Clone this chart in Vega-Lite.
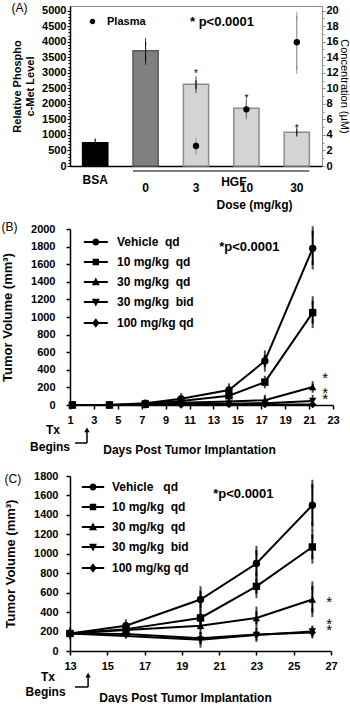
{
  "$schema": "https://vega.github.io/schema/vega-lite/v6.json",
  "background": "white",
  "padding": {"left": 1, "top": 1, "right": 0, "bottom": 0},
  "datasets": {
    "phospho": [
      {"group": "BSA", "level": 750, "lo": 735, "hi": 765},
      {"group": "0", "level": 3711, "lo": 3390, "hi": 4001},
      {"group": "3", "level": 2630, "lo": 2479, "hi": 2759},
      {"group": "10", "level": 1857, "lo": 1700, "hi": 2020},
      {"group": "30", "level": 1085, "lo": 1070, "hi": 1100}
    ],
    "plasma": [
      {"group": "3", "conc": 2.58, "lo": 1.93, "hi": 3.13},
      {"group": "10", "conc": 7.3, "lo": 6.48, "hi": 8.28},
      {"group": "30", "conc": 15.93, "lo": 12.36, "hi": 19.35}
    ],
    "b": [
      {"series": "Vehicle\u00a0 qd", "day": 1.2, "vol": 0},
      {"series": "Vehicle\u00a0 qd", "day": 4.3, "vol": 0},
      {"series": "Vehicle\u00a0 qd", "day": 7.3, "vol": 20},
      {"series": "Vehicle\u00a0 qd", "day": 10.3, "vol": 70, "lo": 55, "hi": 85},
      {"series": "Vehicle\u00a0 qd", "day": 14.3, "vol": 170, "lo": 145, "hi": 195},
      {"series": "Vehicle\u00a0 qd", "day": 17.3, "vol": 500, "lo": 430, "hi": 570},
      {"series": "Vehicle\u00a0 qd", "day": 21.3, "vol": 1780, "lo": 1590, "hi": 1980},
      {"series": "10 mg/kg\u00a0 qd", "day": 1.2, "vol": 0},
      {"series": "10 mg/kg\u00a0 qd", "day": 4.3, "vol": 0},
      {"series": "10 mg/kg\u00a0 qd", "day": 7.3, "vol": 10},
      {"series": "10 mg/kg\u00a0 qd", "day": 10.3, "vol": 45},
      {"series": "10 mg/kg\u00a0 qd", "day": 14.3, "vol": 105, "lo": 90, "hi": 120},
      {"series": "10 mg/kg\u00a0 qd", "day": 17.3, "vol": 260, "lo": 240, "hi": 280},
      {"series": "10 mg/kg\u00a0 qd", "day": 21.3, "vol": 1050, "lo": 925, "hi": 1185},
      {"series": "30 mg/kg\u00a0 qd", "day": 1.2, "vol": 0},
      {"series": "30 mg/kg\u00a0 qd", "day": 4.3, "vol": 0},
      {"series": "30 mg/kg\u00a0 qd", "day": 7.3, "vol": 5},
      {"series": "30 mg/kg\u00a0 qd", "day": 10.3, "vol": 25},
      {"series": "30 mg/kg\u00a0 qd", "day": 14.3, "vol": 40},
      {"series": "30 mg/kg\u00a0 qd", "day": 17.3, "vol": 55, "lo": 45, "hi": 65},
      {"series": "30 mg/kg\u00a0 qd", "day": 21.3, "vol": 205, "lo": 190, "hi": 220},
      {"series": "30 mg/kg\u00a0 bid", "day": 1.2, "vol": 0},
      {"series": "30 mg/kg\u00a0 bid", "day": 4.3, "vol": 0},
      {"series": "30 mg/kg\u00a0 bid", "day": 7.3, "vol": 0},
      {"series": "30 mg/kg\u00a0 bid", "day": 10.3, "vol": 10},
      {"series": "30 mg/kg\u00a0 bid", "day": 14.3, "vol": 15},
      {"series": "30 mg/kg\u00a0 bid", "day": 17.3, "vol": 20},
      {"series": "30 mg/kg\u00a0 bid", "day": 21.3, "vol": 45, "lo": 25, "hi": 65},
      {"series": "100 mg/kg qd", "day": 1.2, "vol": 0},
      {"series": "100 mg/kg qd", "day": 4.3, "vol": 0},
      {"series": "100 mg/kg qd", "day": 7.3, "vol": 0},
      {"series": "100 mg/kg qd", "day": 10.3, "vol": 0},
      {"series": "100 mg/kg qd", "day": 14.3, "vol": 5},
      {"series": "100 mg/kg qd", "day": 17.3, "vol": 5},
      {"series": "100 mg/kg qd", "day": 21.3, "vol": 5}
    ],
    "c": [
      {"series": "Vehicle\u00a0\u00a0 qd", "day": 13, "vol": 180, "lo": 165, "hi": 195},
      {"series": "Vehicle\u00a0\u00a0 qd", "day": 16, "vol": 260, "lo": 240, "hi": 280},
      {"series": "Vehicle\u00a0\u00a0 qd", "day": 20, "vol": 530, "lo": 440, "hi": 620},
      {"series": "Vehicle\u00a0\u00a0 qd", "day": 23, "vol": 900, "lo": 775, "hi": 1035},
      {"series": "Vehicle\u00a0\u00a0 qd", "day": 26, "vol": 1500, "lo": 1285, "hi": 1715},
      {"series": "10 mg/kg\u00a0 qd", "day": 13, "vol": 180},
      {"series": "10 mg/kg\u00a0 qd", "day": 16, "vol": 225, "lo": 205, "hi": 245},
      {"series": "10 mg/kg\u00a0 qd", "day": 20, "vol": 340, "lo": 290, "hi": 390},
      {"series": "10 mg/kg\u00a0 qd", "day": 23, "vol": 665, "lo": 590, "hi": 740},
      {"series": "10 mg/kg\u00a0 qd", "day": 26, "vol": 1070, "lo": 945, "hi": 1200},
      {"series": "30 mg/kg\u00a0 qd", "day": 13, "vol": 180},
      {"series": "30 mg/kg\u00a0 qd", "day": 16, "vol": 215},
      {"series": "30 mg/kg\u00a0 qd", "day": 20, "vol": 260, "lo": 220, "hi": 300},
      {"series": "30 mg/kg\u00a0 qd", "day": 23, "vol": 340, "lo": 275, "hi": 410},
      {"series": "30 mg/kg\u00a0 qd", "day": 26, "vol": 530, "lo": 395, "hi": 670},
      {"series": "30 mg/kg\u00a0 bid", "day": 13, "vol": 180},
      {"series": "30 mg/kg\u00a0 bid", "day": 16, "vol": 155},
      {"series": "30 mg/kg\u00a0 bid", "day": 20, "vol": 115, "lo": 80, "hi": 150},
      {"series": "30 mg/kg\u00a0 bid", "day": 23, "vol": 165, "lo": 140, "hi": 190},
      {"series": "30 mg/kg\u00a0 bid", "day": 26, "vol": 200, "lo": 185, "hi": 215},
      {"series": "100 mg/kg qd", "day": 13, "vol": 180},
      {"series": "100 mg/kg qd", "day": 16, "vol": 175},
      {"series": "100 mg/kg qd", "day": 20, "vol": 130, "lo": 110, "hi": 150},
      {"series": "100 mg/kg qd", "day": 23, "vol": 170, "lo": 155, "hi": 185},
      {"series": "100 mg/kg qd", "day": 26, "vol": 190, "lo": 175, "hi": 205}
    ]
  },
  "columns": 1,
  "spacing": 10,
  "align": "none",
  "resolve": {"scale": {"x": "independent", "y": "independent", "shape": "independent", "color": "independent", "fill": "independent", "stroke": "independent"}},
  "concat": [
    {
      "width": 252,
      "height": 160,
      "view": {"stroke": "#8c8c8c", "strokeWidth": 1},
      "title": {"text": "(A)", "offset": -10},
      "layer": [
        {
          "layer": [
            {
              "data": {"name": "phospho"},
              "mark": {"type": "bar", "strokeWidth": 1.5},
              "encoding": {
                "x": {"field": "group", "type": "nominal", "sort": null,
                  "scale": {"domain": ["BSA", "0", "3", "10", "30"], "paddingInner": 0.5, "paddingOuter": 0.25},
                  "axis": {"title": "Dose (mg/kg)", "titleX": 184, "titlePadding": 6, "labelAngle": 0, "ticks": false, "labelFontSize": 12, "labelOverlap": false,
                    "labelPadding": {"condition": {"test": "datum.value === 'BSA'", "value": 8}, "value": 16}}},
                "y": {"field": "level", "type": "quantitative",
                  "scale": {"domain": [0, 5150], "nice": false},
                  "axis": {"title": ["Relative Phospho", "c-Met Level"], "titleFontSize": 11, "titlePadding": 6, "format": "d", "labelOverlap": false, "tickCount": 100,
                    "values": [0,100,200,300,400,500,600,700,800,900,1000,1100,1200,1300,1400,1500,1600,1700,1800,1900,2000,2100,2200,2300,2400,2500,2600,2700,2800,2900,3000,3100,3200,3300,3400,3500,3600,3700,3800,3900,4000,4100,4200,4300,4400,4500,4600,4700,4800,4900,5000],
                    "labelExpr": "datum.value % 500 === 0 ? datum.label : ''",
                    "tickSize": {"condition": {"test": "datum.value % 500 === 0", "value": 3}, "value": 2},
                    "tickWidth": 1, "labelPadding": 1}},
                "fill": {"field": "group", "type": "nominal", "scale": {"domain": ["BSA", "0", "3", "10", "30"], "range": ["#000000", "#808080", "#d4d4d4", "#d4d4d4", "#d4d4d4"]}, "legend": null},
                "stroke": {"field": "group", "type": "nominal", "scale": {"domain": ["BSA", "0", "3", "10", "30"], "range": ["#000000", "#5a5a5a", "#8c8c8c", "#8c8c8c", "#8c8c8c"]}, "legend": null}
              }
            },
            {
              "data": {"name": "phospho"},
              "mark": {"type": "rule", "color": "black", "strokeWidth": 1},
              "encoding": {"x": {"field": "group", "type": "nominal"}, "y": {"field": "lo", "type": "quantitative"}, "y2": {"field": "hi"}}
            },
            {
              "data": {"name": "phospho"},
              "mark": {"type": "tick", "color": "black", "thickness": 1, "size": 8, "orient": "vertical"},
              "encoding": {"x": {"field": "group", "type": "nominal"}, "y": {"field": "lo", "type": "quantitative"}}
            },
            {
              "data": {"name": "phospho"},
              "mark": {"type": "tick", "color": "black", "thickness": 1, "size": 8, "orient": "vertical"},
              "encoding": {"x": {"field": "group", "type": "nominal"}, "y": {"field": "hi", "type": "quantitative"}}
            },
            {
              "data": {"values": [{}]},
              "mark": {"type": "text", "text": "*", "fontSize": 10, "baseline": "alphabetic", "color": "black"},
              "encoding": {"x": {"datum": "3"}, "y": {"datum": 2852}}
            },
            {
              "data": {"values": [{}]},
              "mark": {"type": "text", "text": "*", "fontSize": 10, "baseline": "alphabetic", "color": "black"},
              "encoding": {"x": {"datum": "10"}, "y": {"datum": 2047}}
            },
            {
              "data": {"values": [{}]},
              "mark": {"type": "text", "text": "*", "fontSize": 10, "baseline": "alphabetic", "color": "black"},
              "encoding": {"x": {"datum": "30"}, "y": {"datum": 1082}}
            },
            {
              "data": {"values": [{}]},
              "mark": {"type": "text", "text": "* p<0.0001", "fontSize": 13, "fontWeight": "bold", "align": "left", "baseline": "middle", "dx": -6, "color": "black"},
              "encoding": {"x": {"datum": "3"}, "y": {"datum": 4635}}
            },
            {
              "data": {"values": [{}]},
              "mark": {"type": "rule", "color": "#555555", "strokeWidth": 1.5},
              "encoding": {"x": {"datum": "0", "bandPosition": 0}, "x2": {"datum": "30", "bandPosition": 1}, "y": {"datum": -161}}
            },
            {
              "data": {"values": [{}]},
              "mark": {"type": "text", "text": "HGF", "fontSize": 12, "fontWeight": "bold", "baseline": "middle", "color": "black"},
              "encoding": {"x": {"datum": "10", "bandPosition": 0}, "y": {"datum": -515}}
            }
          ]
        },
        {
          "data": {"name": "plasma"},
          "layer": [
            {
              "mark": {"type": "rule", "color": "#7a7a7a", "strokeWidth": 1},
              "encoding": {
                "x": {"field": "group", "type": "nominal"},
                "y": {"field": "lo", "type": "quantitative", "scale": {"domain": [0, 20.6], "nice": false},
                  "axis": {"orient": "right", "title": "Concentration (\u00b5M)", "titleFontWeight": "normal", "titleFontSize": 11, "titlePadding": 0, "format": "d", "labelOverlap": false, "tickCount": 100,
                    "values": [0,0.5,1,1.5,2,2.5,3,3.5,4,4.5,5,5.5,6,6.5,7,7.5,8,8.5,9,9.5,10,10.5,11,11.5,12,12.5,13,13.5,14,14.5,15,15.5,16,16.5,17,17.5,18,18.5,19,19.5,20],
                    "labelExpr": "datum.value % 2 === 0 ? datum.label : ''",
                    "tickSize": {"condition": {"test": "datum.value % 2 === 0", "value": 3}, "value": 2},
                    "domainColor": "#8c8c8c", "tickColor": "#8c8c8c", "domainWidth": 1, "tickWidth": 1, "labelPadding": 1}},
                "y2": {"field": "hi"}
              }
            },
            {
              "mark": {"type": "tick", "color": "#7a7a7a", "thickness": 1, "size": 8, "orient": "vertical"},
              "encoding": {"x": {"field": "group", "type": "nominal"}, "y": {"field": "lo", "type": "quantitative"}}
            },
            {
              "mark": {"type": "tick", "color": "#7a7a7a", "thickness": 1, "size": 8, "orient": "vertical"},
              "encoding": {"x": {"field": "group", "type": "nominal"}, "y": {"field": "hi", "type": "quantitative"}}
            },
            {
              "mark": {"type": "point", "shape": "circle", "filled": true, "color": "black", "opacity": 1, "size": 40},
              "encoding": {
                "x": {"field": "group", "type": "nominal"},
                "y": {"field": "conc", "type": "quantitative"}
              }
            },
            {
              "transform": [{"filter": "false"}],
              "mark": {"type": "point", "filled": true, "color": "black", "opacity": 1, "size": 30},
              "encoding": {
                "x": {"field": "group", "type": "nominal"},
                "y": {"field": "conc", "type": "quantitative"},
                "shape": {"datum": "Plasma", "scale": {"range": ["M3.55,0A1,1,0,1,1,1.55,0A1,1,0,1,1,3.55,0Z"]},
                  "legend": {"orient": "top-left", "offset": 10, "title": null, "symbolSize": 30, "labelFontSize": 11, "labelOffset": 16}}
              }
            }
          ]
        }
      ],
      "resolve": {"scale": {"y": "independent"}}
    },
    {
      "columns": 1,
      "spacing": 15,
      "align": "none",
      "resolve": {"scale": {"x": "independent", "y": "independent", "shape": "independent"}},
      "concat": [
        {
          "width": 263,
          "height": 176,
          "title": {"text": "(B)", "offset": -11},
          "layer": [
            {
              "data": {"name": "b"},
              "mark": {"type": "line", "color": "black", "strokeWidth": 2},
              "encoding": {
                "x": {"field": "day", "type": "quantitative", "scale": {"domain": [1, 23], "nice": false, "zero": false},
                  "axis": {"title": "Days Post Tumor Implantation", "titleX": 119, "titlePadding": 19, "values": [1,3,5,7,9,11,13,15,17,19,21,23], "tickCount": 100, "tickSize": 4, "labelPadding": 5, "format": "d", "labelOverlap": false}},
                "y": {"field": "vol", "type": "quantitative", "scale": {"domain": [0, 2000], "nice": false},
                  "axis": {"title": "Tumor Volume (mm\u00b3)", "titleFontSize": 13, "titlePadding": 16, "values": [0,200,400,600,800,1000,1200,1400,1600,1800,2000], "tickCount": 100, "tickSize": 4, "labelPadding": 11, "format": "d", "labelOverlap": false}},
                "detail": {"field": "series", "type": "nominal"}
              }
            },
            {
              "data": {"name": "b"},
              "transform": [{"filter": "isValid(datum.lo)"}],
              "mark": {"type": "rule", "color": "black", "strokeWidth": 2},
              "encoding": {"x": {"field": "day", "type": "quantitative"}, "y": {"field": "lo", "type": "quantitative"}, "y2": {"field": "hi"}}
            },
            {
              "data": {"name": "b"},
              "transform": [{"filter": "isValid(datum.lo)"}],
              "mark": {"type": "tick", "color": "black", "thickness": 2, "size": 9, "orient": "vertical"},
              "encoding": {"x": {"field": "day", "type": "quantitative"}, "y": {"field": "lo", "type": "quantitative"}}
            },
            {
              "data": {"name": "b"},
              "transform": [{"filter": "isValid(datum.lo)"}],
              "mark": {"type": "tick", "color": "black", "thickness": 2, "size": 9, "orient": "vertical"},
              "encoding": {"x": {"field": "day", "type": "quantitative"}, "y": {"field": "hi", "type": "quantitative"}}
            },
            {
              "data": {"name": "b"},
              "mark": {"type": "point", "filled": true, "color": "black", "opacity": 1, "size": 55},
              "encoding": {
                "x": {"field": "day", "type": "quantitative"},
                "y": {"field": "vol", "type": "quantitative"},
                "shape": {"field": "series", "type": "nominal",
                  "scale": {"domain": ["Vehicle\u00a0 qd", "10 mg/kg\u00a0 qd", "30 mg/kg\u00a0 qd", "30 mg/kg\u00a0 bid", "100 mg/kg qd"], "range": ["circle", "square", "triangle-up", "triangle-down", "diamond"]},
                  "legend": null}
              }
            },
            {
              "data": {"name": "b"},
              "transform": [{"filter": "false"}],
              "mark": {"type": "point", "filled": true, "color": "black", "opacity": 1, "size": 256},
              "encoding": {
                "x": {"field": "day", "type": "quantitative"},
                "y": {"field": "vol", "type": "quantitative"},
                "shape": {"field": "series", "type": "nominal",
                  "scale": {"domain": ["Vehicle\u00a0 qd", "10 mg/kg\u00a0 qd", "30 mg/kg\u00a0 qd", "30 mg/kg\u00a0 bid", "100 mg/kg qd"],
                    "range": ["M0.1,-0.125H3.1V0.125H0.1ZM2.04,0A0.44,0.44,0,1,1,1.16,0A0.44,0.44,0,1,1,2.04,0Z", "M0.1,-0.125H3.1V0.125H0.1ZM1.2,-0.4H2V0.4H1.2Z", "M0.1,-0.125H3.1V0.125H0.1ZM1.6,-0.55L2.1,0.4H1.1Z", "M0.1,-0.125H3.1V0.125H0.1ZM1.6,0.55L1.1,-0.4H2.1Z", "M0.1,-0.125H3.1V0.125H0.1ZM1.6,-0.6L2.05,0L1.6,0.6L1.15,0Z"]},
                  "legend": {"orient": "top-left", "offset": 4, "title": null, "symbolSize": 256, "labelOffset": 25, "rowPadding": 4}}
              }
            },
            {
              "data": {"values": [{}]},
              "mark": {"type": "text", "text": "*p<0.0001", "fontSize": 13, "fontWeight": "bold", "align": "center", "baseline": "middle", "color": "black"},
              "encoding": {"x": {"datum": 16}, "y": {"datum": 1795}}
            },
            {
              "data": {"values": [{}]},
              "mark": {"type": "text", "text": "*", "fontSize": 15, "baseline": "alphabetic", "color": "black"},
              "encoding": {"x": {"datum": 22.34}, "y": {"datum": 250}}
            },
            {
              "data": {"values": [{}]},
              "mark": {"type": "text", "text": "*", "fontSize": 15, "baseline": "alphabetic", "color": "black"},
              "encoding": {"x": {"datum": 22.34}, "y": {"datum": 85}}
            },
            {
              "data": {"values": [{}]},
              "mark": {"type": "text", "text": "*", "fontSize": 15, "baseline": "alphabetic", "color": "black"},
              "encoding": {"x": {"datum": 22.34}, "y": {"datum": 11}}
            },
            {
              "data": {"values": [{}]},
              "mark": {"type": "text", "text": "Tx", "fontSize": 12, "fontWeight": "bold", "baseline": "middle", "color": "black"},
              "encoding": {"x": {"datum": -0.42}, "y": {"datum": -284}}
            },
            {
              "data": {"values": [{}]},
              "mark": {"type": "text", "text": "Begins", "fontSize": 12, "fontWeight": "bold", "baseline": "middle", "color": "black"},
              "encoding": {"x": {"datum": -0.67}, "y": {"datum": -477}}
            },
            {
              "data": {"values": [{}]},
              "mark": {"type": "rule", "color": "black", "strokeWidth": 1.5},
              "encoding": {"x": {"datum": 2.42}, "y": {"datum": -284}, "y2": {"datum": -432}}
            },
            {
              "data": {"values": [{}]},
              "mark": {"type": "rule", "color": "black", "strokeWidth": 1.5},
              "encoding": {"x": {"datum": 1.42}, "x2": {"datum": 2.42}, "y": {"datum": -432}}
            },
            {
              "data": {"values": [{}]},
              "mark": {"type": "point", "shape": "triangle-up", "filled": true, "color": "black", "opacity": 1, "size": 30},
              "encoding": {"x": {"datum": 2.42}, "y": {"datum": -284}}
            }
          ],
          "resolve": {"scale": {"shape": "independent"}}
        },
        {
          "width": 261,
          "height": 175,
          "title": {"text": "(C)", "offset": -16},
          "layer": [
            {
              "data": {"name": "c"},
              "mark": {"type": "line", "color": "black", "strokeWidth": 2},
              "encoding": {
                "x": {"field": "day", "type": "quantitative", "scale": {"domain": [13, 27], "nice": false, "zero": false},
                  "axis": {"title": "Days Post Tumor Implantation", "titleX": 115, "titlePadding": 21, "values": [13,15,17,19,21,23,25,27], "tickCount": 100, "tickSize": 4, "labelPadding": 5, "format": "d", "labelOverlap": false}},
                "y": {"field": "vol", "type": "quantitative", "scale": {"domain": [0, 1800], "nice": false},
                  "axis": {"title": "Tumor Volume (mm\u00b3)", "titleFontSize": 13, "titlePadding": 16, "values": [0,200,400,600,800,1000,1200,1400,1600,1800], "tickCount": 100, "tickSize": 4, "labelPadding": 8, "format": "d", "labelOverlap": false}},
                "detail": {"field": "series", "type": "nominal"}
              }
            },
            {
              "data": {"name": "c"},
              "transform": [{"filter": "isValid(datum.lo)"}],
              "mark": {"type": "rule", "color": "black", "strokeWidth": 2},
              "encoding": {"x": {"field": "day", "type": "quantitative"}, "y": {"field": "lo", "type": "quantitative"}, "y2": {"field": "hi"}}
            },
            {
              "data": {"name": "c"},
              "transform": [{"filter": "isValid(datum.lo)"}],
              "mark": {"type": "tick", "color": "black", "thickness": 2, "size": 9, "orient": "vertical"},
              "encoding": {"x": {"field": "day", "type": "quantitative"}, "y": {"field": "lo", "type": "quantitative"}}
            },
            {
              "data": {"name": "c"},
              "transform": [{"filter": "isValid(datum.lo)"}],
              "mark": {"type": "tick", "color": "black", "thickness": 2, "size": 9, "orient": "vertical"},
              "encoding": {"x": {"field": "day", "type": "quantitative"}, "y": {"field": "hi", "type": "quantitative"}}
            },
            {
              "data": {"name": "c"},
              "mark": {"type": "point", "filled": true, "color": "black", "opacity": 1, "size": 55},
              "encoding": {
                "x": {"field": "day", "type": "quantitative"},
                "y": {"field": "vol", "type": "quantitative"},
                "shape": {"field": "series", "type": "nominal",
                  "scale": {"domain": ["Vehicle\u00a0\u00a0 qd", "10 mg/kg\u00a0 qd", "30 mg/kg\u00a0 qd", "30 mg/kg\u00a0 bid", "100 mg/kg qd"], "range": ["circle", "square", "triangle-up", "triangle-down", "diamond"]},
                  "legend": null}
              }
            },
            {
              "data": {"name": "c"},
              "transform": [{"filter": "false"}],
              "mark": {"type": "point", "filled": true, "color": "black", "opacity": 1, "size": 256},
              "encoding": {
                "x": {"field": "day", "type": "quantitative"},
                "y": {"field": "vol", "type": "quantitative"},
                "shape": {"field": "series", "type": "nominal",
                  "scale": {"domain": ["Vehicle\u00a0\u00a0 qd", "10 mg/kg\u00a0 qd", "30 mg/kg\u00a0 qd", "30 mg/kg\u00a0 bid", "100 mg/kg qd"],
                    "range": ["M0.1,-0.125H2.9V0.125H0.1ZM1.94,0A0.44,0.44,0,1,1,1.06,0A0.44,0.44,0,1,1,1.94,0Z", "M0.1,-0.125H2.9V0.125H0.1ZM1.1,-0.4H1.9V0.4H1.1Z", "M0.1,-0.125H2.9V0.125H0.1ZM1.5,-0.55L2,0.4H1Z", "M0.1,-0.125H2.9V0.125H0.1ZM1.5,0.55L1,-0.4H2Z", "M0.1,-0.125H2.9V0.125H0.1ZM1.5,-0.6L1.95,0L1.5,0.6L1.05,0Z"]},
                  "legend": {"orient": "top-left", "offset": 2, "title": null, "symbolSize": 256, "labelOffset": 22, "rowPadding": 4}}
              }
            },
            {
              "data": {"values": [{}]},
              "mark": {"type": "text", "text": "*p<0.0001", "fontSize": 13, "fontWeight": "bold", "align": "center", "baseline": "middle", "color": "black"},
              "encoding": {"x": {"datum": 22.3}, "y": {"datum": 1615}}
            },
            {
              "data": {"values": [{}]},
              "mark": {"type": "text", "text": "*", "fontSize": 15, "baseline": "alphabetic", "color": "black"},
              "encoding": {"x": {"datum": 26.9}, "y": {"datum": 448}}
            },
            {
              "data": {"values": [{}]},
              "mark": {"type": "text", "text": "*", "fontSize": 15, "baseline": "alphabetic", "color": "black"},
              "encoding": {"x": {"datum": 26.9}, "y": {"datum": 224}}
            },
            {
              "data": {"values": [{}]},
              "mark": {"type": "text", "text": "*", "fontSize": 15, "baseline": "alphabetic", "color": "black"},
              "encoding": {"x": {"datum": 26.9}, "y": {"datum": 160}}
            },
            {
              "data": {"values": [{}]},
              "mark": {"type": "text", "text": "Tx", "fontSize": 12, "fontWeight": "bold", "baseline": "middle", "color": "black"},
              "encoding": {"x": {"datum": 11.82}, "y": {"datum": -267}}
            },
            {
              "data": {"values": [{}]},
              "mark": {"type": "text", "text": "Begins", "fontSize": 12, "fontWeight": "bold", "baseline": "middle", "color": "black"},
              "encoding": {"x": {"datum": 11.69}, "y": {"datum": -422}}
            },
            {
              "data": {"values": [{}]},
              "mark": {"type": "rule", "color": "black", "strokeWidth": 1.5},
              "encoding": {"x": {"datum": 13.97}, "y": {"datum": -247}, "y2": {"datum": -370}}
            },
            {
              "data": {"values": [{}]},
              "mark": {"type": "rule", "color": "black", "strokeWidth": 1.5},
              "encoding": {"x": {"datum": 13.27}, "x2": {"datum": 13.97}, "y": {"datum": -370}}
            },
            {
              "data": {"values": [{}]},
              "mark": {"type": "point", "shape": "triangle-up", "filled": true, "color": "black", "opacity": 1, "size": 30},
              "encoding": {"x": {"datum": 13.97}, "y": {"datum": -247}}
            }
          ],
          "resolve": {"scale": {"shape": "independent"}}
        }
      ]
    }
  ],
  "config": {
    "font": "Liberation Sans",
    "view": {"stroke": null},
    "mark": {"color": "black"},
    "axis": {"labelFont": "Liberation Sans", "titleFont": "Liberation Sans", "labelFontWeight": "bold", "labelFontSize": 11, "labelColor": "black", "titleColor": "black", "titleFontWeight": "bold", "titleFontSize": 12, "domainColor": "black", "tickColor": "black", "domainWidth": 1.5, "tickWidth": 1.5, "grid": false, "labelOverlap": false, "labelFlush": false},
    "legend": {"labelFont": "Liberation Sans", "labelFontSize": 12, "labelFontWeight": "bold", "labelColor": "black", "padding": 0, "labelLimit": 400},
    "title": {"font": "Liberation Sans", "fontSize": 12, "fontWeight": "normal", "color": "black", "anchor": "start", "frame": "bounds"},
    "text": {"font": "Liberation Sans", "color": "black"}
  }
}
